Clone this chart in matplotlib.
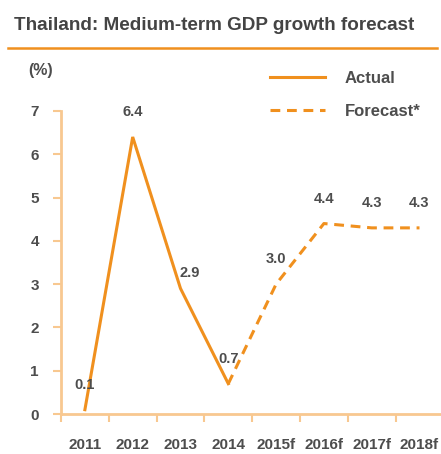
import numpy as np
import matplotlib
matplotlib.use('Agg')
import matplotlib.pyplot as plt
from matplotlib.lines import Line2D

# Dados
years = ['2011', '2012', '2013', '2014', '2015f', '2016f', '2017f', '2018f']
actual = [0.1, 6.4, 2.9, 0.7]
forecast = [0.7, 3.0, 4.4, 4.3, 4.3]
labels = ['0.1', '6.4', '2.9', '0.7', '3.0', '4.4', '4.3', '4.3']
label_values = [0.1, 6.4, 2.9, 0.7, 3.0, 4.4, 4.3, 4.3]

orange = '#F0901E'
light_orange = '#F8C890'
text_color = '#4d4d4d'

plt.rcParams['font.family'] = ['Liberation Sans', 'DejaVu Sans']
plt.rcParams['font.weight'] = 'bold'

fig = plt.figure(figsize=(4.41, 4.54), dpi=100)
ax = fig.add_axes([61 / 441, 1 - 414 / 454, 1 - 61 / 441, (414 - 111) / 454])

x = np.arange(len(years))
ax.plot(x[:len(actual)], actual, color=orange, lw=2.2, solid_joinstyle='miter', label='Actual')
ax.plot(x[len(actual) - 1:], forecast, color=orange, lw=2.2, ls=(0, (3.2, 2.2)), label='Forecast*')

# rótulos dos valores
for i, (lab, v) in enumerate(zip(labels, label_values)):
    off = (6.5, 11) if lab == '2.9' else (0, 18)
    ax.annotate(lab, (i, v), xytext=off, textcoords='offset points', ha='center', va='center',
                fontsize=10.5, color=text_color, fontweight='bold')

ax.set_xlim(-0.5, 7.45)
ax.set_ylim(0, 7)
ax.set_yticks(range(0, 8))
ax.set_xticks(x)
ax.set_xticklabels(years)
ax.set_xticks(np.arange(-0.5, 7.5, 1), minor=True)
ax.tick_params(axis='x', which='major', length=0, pad=17, labelsize=11, labelcolor=text_color)
ax.tick_params(axis='x', which='minor', length=6, width=1.5, color=light_orange, direction='out')
ax.tick_params(axis='y', length=6, width=1.5, color=light_orange, pad=10, labelsize=11, labelcolor=text_color)
for s in ['top', 'right']:
    ax.spines[s].set_visible(False)
for s in ['left', 'bottom']:
    ax.spines[s].set_color(light_orange)
    ax.spines[s].set_linewidth(2)
ax.patch.set_alpha(0)

fig.legend(loc='upper left', bbox_to_anchor=(270 / 441, 1 - 71 / 454), frameon=False,
           fontsize=12, handlelength=3.3, handletextpad=1.2, labelspacing=1.1,
           borderpad=0, borderaxespad=0, labelcolor=text_color)

# título
fig.text(14 / 441, 1 - 26 / 454, 'Thailand: Medium-term GDP growth forecast', fontsize=13.6,
         fontweight='bold', color='#444444', va='center', ha='left')
fig.add_artist(Line2D([8 / 441, 437 / 441], [1 - 48 / 454, 1 - 48 / 454], color=orange, lw=1.8))
fig.text(28 / 441, 1 - 71 / 454, '(%)', fontsize=11.5, color=text_color, va='center', ha='left')

fig.savefig('out.png', dpi=100)
